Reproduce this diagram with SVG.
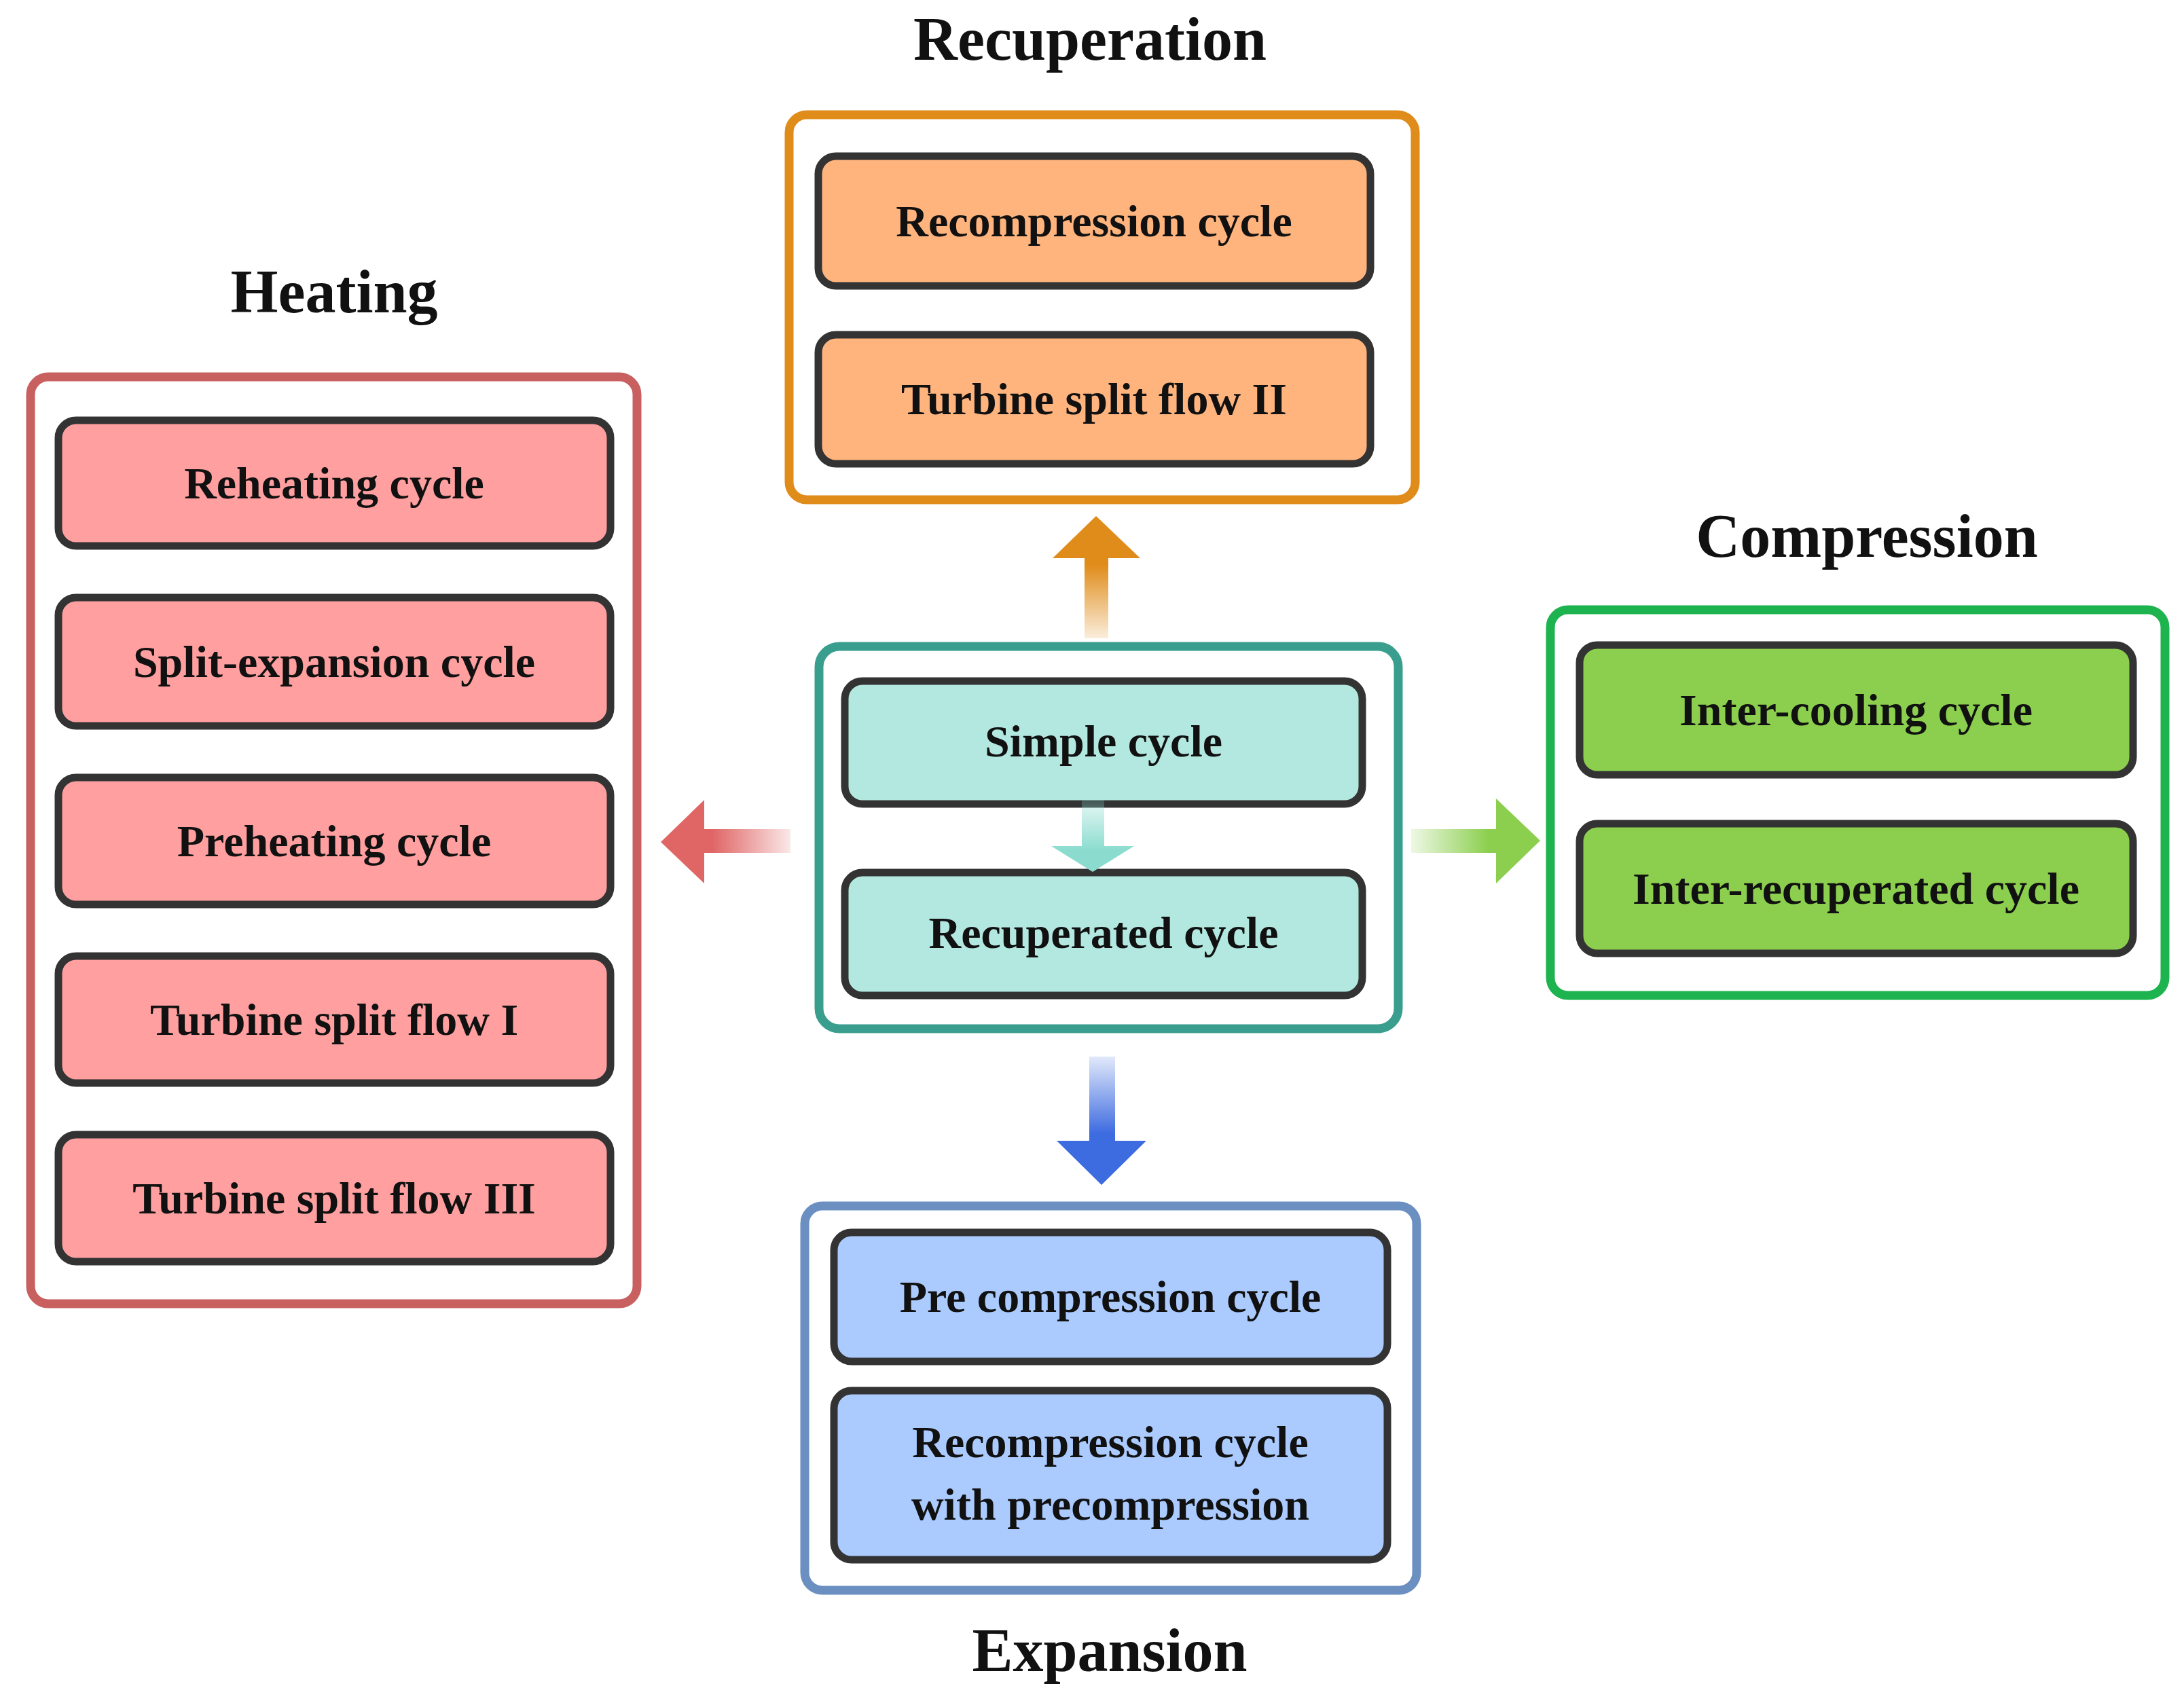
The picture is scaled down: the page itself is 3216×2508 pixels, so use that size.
<svg xmlns="http://www.w3.org/2000/svg" width="3216" height="2508" viewBox="0 0 3216 2508">
<style>
text{font-family:"Liberation Serif","Times New Roman",serif;font-weight:bold;fill:#111;text-anchor:middle}
.t{font-size:90px}
.n{font-size:66px}
.g{fill:#fff;stroke-width:13}
.b{stroke:#333;stroke-width:11}
</style>
<defs>
<linearGradient id="gu" x1="0" y1="1" x2="0" y2="0"><stop offset="0" stop-color="#e08c1a" stop-opacity="0.15"/><stop offset="0.6" stop-color="#e08c1a"/></linearGradient>
<linearGradient id="gl" x1="1" y1="0" x2="0" y2="0"><stop offset="0" stop-color="#e06666" stop-opacity="0.15"/><stop offset="0.6" stop-color="#e06666"/></linearGradient>
<linearGradient id="gr" x1="0" y1="0" x2="1" y2="0"><stop offset="0" stop-color="#8ccf4e" stop-opacity="0.15"/><stop offset="0.6" stop-color="#8ccf4e"/></linearGradient>
<linearGradient id="gd" x1="0" y1="0" x2="0" y2="1"><stop offset="0" stop-color="#3d6be0" stop-opacity="0.15"/><stop offset="0.6" stop-color="#3d6be0"/></linearGradient>
<linearGradient id="gt" x1="0" y1="0" x2="0" y2="1"><stop offset="0" stop-color="#8bdccf" stop-opacity="0.2"/><stop offset="0.7" stop-color="#8bdccf"/></linearGradient>
</defs>

<g id="heating">
<text class="t" x="492" y="460">Heating</text>
<rect class="g" x="45" y="555" width="893" height="1365" rx="26" stroke="#c86060"/>
<g fill="#ff9f9f">
<rect class="b" x="86" y="619" width="813" height="185" rx="26"/>
<rect class="b" x="86" y="880" width="813" height="189" rx="26"/>
<rect class="b" x="86" y="1145" width="813" height="187" rx="26"/>
<rect class="b" x="86" y="1408" width="813" height="187" rx="26"/>
<rect class="b" x="86" y="1671" width="813" height="187" rx="26"/>
</g>
<text class="n" x="492" y="734">Reheating cycle</text>
<text class="n" x="492" y="997">Split-expansion cycle</text>
<text class="n" x="492" y="1261">Preheating cycle</text>
<text class="n" x="492" y="1524">Turbine split flow I</text>
<text class="n" x="492" y="1787">Turbine split flow III</text>
</g>

<g id="recuperation">
<text class="t" x="1605" y="88">Recuperation</text>
<rect class="g" x="1162" y="169" width="922" height="567" rx="26" stroke="#e08c1a"/>
<g fill="#ffb47e">
<rect class="b" x="1205" y="230" width="813" height="191" rx="26"/>
<rect class="b" x="1205" y="493" width="813" height="190" rx="26"/>
</g>
<text class="n" x="1611" y="348">Recompression cycle</text>
<text class="n" x="1611" y="610">Turbine split flow II</text>
</g>

<g id="center">
<rect class="g" x="1206" y="952" width="853" height="563" rx="30" stroke="#3a9e8e"/>
<g fill="#b3e8e0">
<rect class="b" x="1244" y="1003" width="762" height="181" rx="26"/>
<rect class="b" x="1244" y="1285" width="762" height="181" rx="26"/>
</g>
<text class="n" x="1625" y="1114">Simple cycle</text>
<text class="n" x="1625" y="1396">Recuperated cycle</text>
</g>

<g id="compression">
<text class="t" x="2749" y="820">Compression</text>
<rect class="g" x="2283" y="898" width="905" height="568" rx="26" stroke="#1db34f"/>
<g fill="#8ccf4e">
<rect class="b" x="2326" y="950" width="815" height="191" rx="26"/>
<rect class="b" x="2326" y="1213" width="815" height="191" rx="26"/>
</g>
<text class="n" x="2733" y="1068">Inter-cooling cycle</text>
<text class="n" x="2733" y="1331">Inter-recuperated cycle</text>
</g>

<g id="expansion">
<text class="t" x="1634" y="2461">Expansion</text>
<rect class="g" x="1185" y="1776" width="901" height="566" rx="26" stroke="#6a8fc0"/>
<g fill="#abcbff">
<rect class="b" x="1228" y="1815" width="815" height="190" rx="26"/>
<rect class="b" x="1228" y="2048" width="815" height="249" rx="26"/>
</g>
<text class="n" x="1635" y="1932">Pre compression cycle</text>
<text class="n" x="1635" y="2146">Recompression cycle</text>
<text class="n" x="1635" y="2238">with precompression</text>
</g>

<g id="connectors">
<polygon fill="url(#gu)" points="1597,940 1597,822 1550,822 1614,760 1679,822 1632,822 1632,940"/>
<polygon fill="url(#gl)" points="1164,1221 1037,1221 1037,1178 973,1240 1037,1301 1037,1256 1164,1256"/>
<polygon fill="url(#gr)" points="2078,1221 2203,1221 2203,1176 2268,1238 2203,1301 2203,1256 2078,1256"/>
<polygon fill="url(#gd)" points="1604,1556 1604,1680 1556,1680 1622,1745 1688,1680 1642,1680 1642,1556"/>
<polygon fill="url(#gt)" points="1593,1178 1593,1246 1548,1246 1609,1284 1670,1246 1626,1246 1626,1178"/>
</g>
</svg>
